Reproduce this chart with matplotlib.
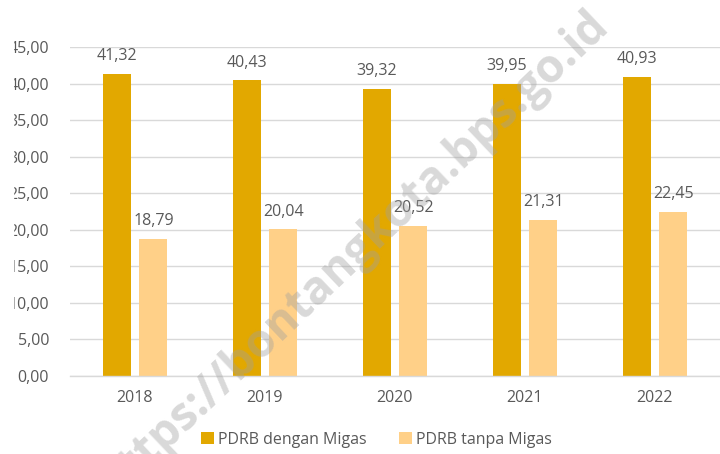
import matplotlib
matplotlib.use('Agg')
import matplotlib.pyplot as plt
from matplotlib.patches import Rectangle
import numpy as np

plt.rcParams['font.family'] = ['Open Sans', 'DejaVu Sans']

# PDRB shares by year
years = ['2018', '2019', '2020', '2021', '2022']
dengan_migas = [41.32, 40.43, 39.32, 39.95, 40.93]
tanpa_migas = [18.79, 20.04, 20.52, 21.31, 22.45]
yticks = [0, 5, 10, 15, 20, 25, 30, 35, 40, 45]

text_color = '#595959'
grid_color = '#D9D9D9'

fig = plt.figure(figsize=(7.2, 4.54), dpi=100)
ax = fig.add_axes([0.0972, 0.1718, 0.9028, 0.7247])

x = np.arange(len(years))
w = 0.215
off = 0.142
b1 = ax.bar(x - off, dengan_migas, w, color='#E2A800', label='PDRB dengan Migas', zorder=2)
b2 = ax.bar(x + off, tanpa_migas, w, color='#FFD088', label='PDRB tanpa Migas', zorder=2)

def fmt(v):
    return f'{v:.2f}'.replace('.', ',')

for bars in (b1, b2):
    for bar in bars:
        h = bar.get_height()
        ax.annotate(fmt(h), (bar.get_x() + bar.get_width() / 2, h),
                    xytext=(0, 7), textcoords='offset points',
                    ha='center', va='bottom', fontsize=11.5, color=text_color)

ax.set_xlim(-0.5, len(years) - 0.5)
ax.set_ylim(0, 45)
ax.set_xticks(x)
ax.set_xticklabels(years)
ax.set_yticks(yticks)
ax.set_yticklabels([fmt(t) for t in yticks])
ax.tick_params(axis='y', length=0, pad=15, labelsize=11.5, labelcolor=text_color)
ax.tick_params(axis='x', length=0, pad=10, labelsize=11.5, labelcolor=text_color)
ax.grid(axis='y', color=grid_color, linewidth=1, zorder=0)
for s in ('top', 'right', 'left'):
    ax.spines[s].set_visible(False)
ax.spines['bottom'].set_color(grid_color)
ax.spines['bottom'].set_linewidth(1)

leg = fig.legend(handles=[b1, b2], loc='center', bbox_to_anchor=(0.523, 0.031),
                 ncol=2, frameon=False, fontsize=11.5, handlelength=0.8,
                 handleheight=0.8, handletextpad=0.3, columnspacing=2.0)
for t in leg.get_texts():
    t.set_color(text_color)

# cropped left margin
fig.patches.append(Rectangle((0, 0), 12.5 / 720, 1, transform=fig.transFigure,
                             color='white', zorder=5))

# site watermark
fig.text(0.490, 0.441, 'https://bontangkota.bps.go.id', fontsize=33, fontweight='bold',
         color='#A0A0A0', alpha=0.4, rotation=43.5, rotation_mode='anchor',
         ha='center', va='center', zorder=10)

fig.savefig('out.png', dpi=100)
